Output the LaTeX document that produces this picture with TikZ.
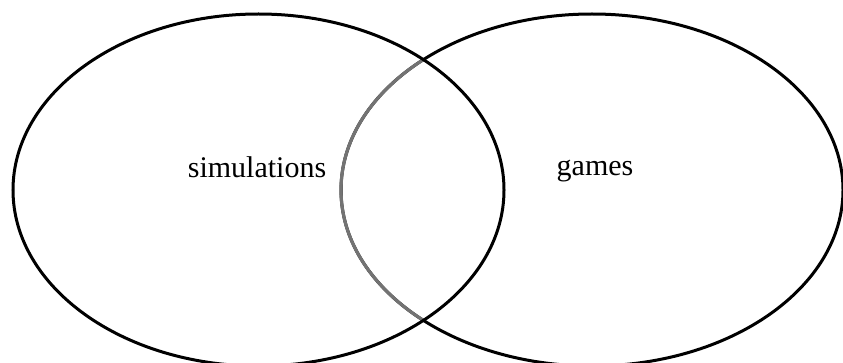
\documentclass[tikz,border=0pt]{standalone}
\usepackage{fontspec}
\setmainfont{Liberation Serif}
\tikzset{
  ring/.style={line width=3pt, draw=black},
  innerring/.style={line width=3.2pt, draw=black!55},
  label/.style={font=\fontsize{30}{36}\selectfont, anchor=base, inner sep=0pt}
}
\begin{document}
\begin{tikzpicture}[x=1pt,y=1pt]
\useasboundingbox (0,0) rectangle (843,362);
% right ellipse
\draw[ring] (592,172) ellipse [x radius=251, y radius=176];
% gray part of right ellipse inside left ellipse
\begin{scope}
  \clip (258.5,172) ellipse [x radius=245.5, y radius=176];
  \draw[innerring] (592,172) ellipse [x radius=251, y radius=176];
\end{scope}
% left ellipse
\draw[ring] (258.5,172) ellipse [x radius=245.5, y radius=176];
\node[label] (sim) at (257,185) {simulations};
\node[label] (gam) at (595,186) {games};
\end{tikzpicture}
\end{document}
